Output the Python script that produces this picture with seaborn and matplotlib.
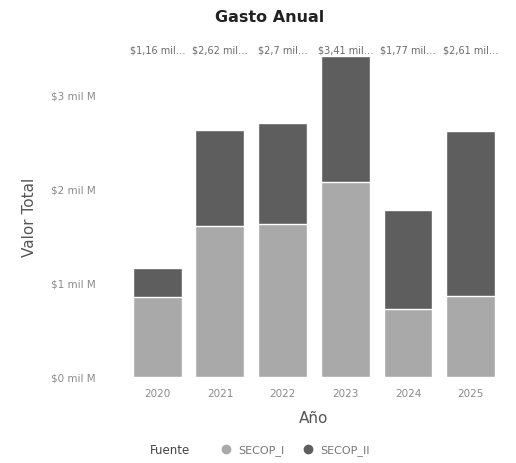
import pandas as pd
import numpy as np
import seaborn as sns
import matplotlib.pyplot as plt
from matplotlib.lines import Line2D

# Data (billions of pesos)
years = ["2020", "2021", "2022", "2023", "2024", "2025"]
secop_i = [0.85, 1.60, 1.62, 2.07, 0.72, 0.86]
secop_ii = [0.31, 1.02, 1.08, 1.34, 1.05, 1.75]
y_ticks = [0, 1, 2, 3]
y_tick_labels = ["$0 mil M", "$1 mil M", "$2 mil M", "$3 mil M"]

df = pd.DataFrame({"Año": years, "SECOP_I": secop_i, "SECOP_II": secop_ii})
df["Total"] = df["SECOP_I"] + df["SECOP_II"]

light = "#a9a9a9"
dark = "#5e5e5e"

sns.set_style("white")
plt.rcParams["font.family"] = ["DejaVu Sans"]

fig = plt.figure(figsize=(5.16, 4.64), dpi=100)
ax = fig.add_axes([0.244, 0.186, 0.729, 0.691])

# stacked bars: total first (dark top), then the bottom part on top of it
sns.barplot(data=df, x="Año", y="Total", color=dark, saturation=1, width=0.78, ax=ax)
sns.barplot(data=df, x="Año", y="SECOP_I", color=light, saturation=1, width=0.78, ax=ax)

ax.set_ylim(0, df["Total"].max())
ax.set_yticks(y_ticks)
ax.set_yticklabels(y_tick_labels)
ax.tick_params(axis="x", length=0, labelsize=7.5, labelcolor="#8a8a8a", pad=8)
ax.tick_params(axis="y", length=0, labelsize=7.5, labelcolor="#8a8a8a", pad=22)
sns.despine(ax=ax, left=True, bottom=True)

ax.set_xlabel("Año", fontsize=11, color="#555555", labelpad=9)
ax.set_ylabel("Valor Total", fontsize=11, color="#555555", labelpad=10)

# total labels above the plot area
trans = ax.get_xaxis_transform()
for i, t in enumerate(df["Total"]):
    txt = ("%.2f" % t).rstrip("0").rstrip(".").replace(".", ",")
    ax.text(i, 1.02, "$" + txt + " mil…", transform=trans, ha="center", va="center",
            fontsize=7, color="#6a6a6a", clip_on=False)

fig.text(270 / 516, 1 - 18 / 464, "Gasto Anual", ha="center", va="center",
         fontsize=11.5, fontweight="bold", color="#222222")

# legend at the bottom
fig.text(150 / 516, 1 - 451 / 464, "Fuente", ha="left", va="center", fontsize=8.5, color="#444444")
handles = [Line2D([], [], marker="o", linestyle="", markersize=6, color=light),
           Line2D([], [], marker="o", linestyle="", markersize=6, color=dark)]
fig.legend(handles, ["SECOP_I", "SECOP_II"], loc="center left", ncol=2,
           bbox_to_anchor=(210 / 516, 1 - 451 / 464), frameon=False, fontsize=8,
           handletextpad=0.1, columnspacing=1.2, labelcolor="#777777", borderaxespad=0)

fig.savefig("out.png", dpi=100)
